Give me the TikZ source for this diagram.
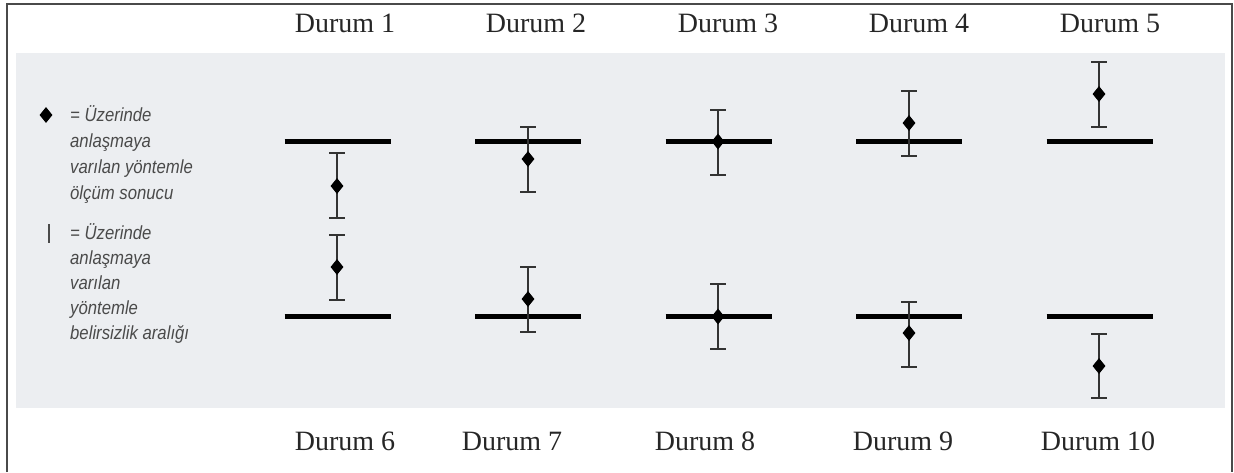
\documentclass[tikz,border=0pt]{standalone}
\usepackage{fontspec}
\setmainfont{Liberation Serif}
\newfontfamily\legfont{Liberation Sans}
\usetikzlibrary{shapes.geometric}
\definecolor{panelgray}{HTML}{ECEEF1}
\definecolor{framegray}{HTML}{4A4A4A}
\definecolor{errgray}{HTML}{333333}
\definecolor{leggray}{HTML}{4A4A4A}
\newcommand{\narrowtxt}[1]{\scalebox{0.88}[1]{#1}}
\tikzset{
  refbar/.style={line width=5pt, black},
  errline/.style={line width=1.3pt, errgray},
  meas/.style={shape=diamond, fill=black, draw=none, inner sep=0pt, minimum width=13pt, minimum height=16pt},
  durum/.style={font=\fontsize{28}{30}\selectfont, anchor=base, inner sep=0pt, text=black!85},
  legtext/.style={font=\legfont\itshape\fontsize{19}{22}\selectfont, anchor=base west, inner sep=0pt, text=leggray},
}
\begin{document}
\begin{tikzpicture}[x=1pt,y=-1pt]
\useasboundingbox (0,0) rectangle (1234,472);
% frame
\draw[framegray, line width=2pt] (7,472) -- (7,3.5) -- (1232,3.5) -- (1232,472);
% panel
\fill[panelgray] (16,52.5) rectangle (1225,408);
% titles
\node[durum] (t1) at (345,32) {Durum 1};
\node[durum] (t2) at (536,32) {Durum 2};
\node[durum] (t3) at (728,32) {Durum 3};
\node[durum] (t4) at (919,32) {Durum 4};
\node[durum] (t5) at (1110,32) {Durum 5};
\node[durum] (t6) at (345,450) {Durum 6};
\node[durum] (t7) at (512,450) {Durum 7};
\node[durum] (t8) at (705,450) {Durum 8};
\node[durum] (t9) at (903,450) {Durum 9};
\node[durum] (t10) at (1098,450) {Durum 10};
% reference bars
\foreach \cx/\n in {337.5/1, 528/2, 718.5/3, 909/4, 1099.5/5}{
  \coordinate (ua\n) at (\cx-53,141.5);
  \coordinate (ub\n) at (\cx+53,141.5);
  \draw[refbar] (ua\n) -- (ub\n);
  \coordinate (la\n) at (\cx-53,316.5);
  \coordinate (lb\n) at (\cx+53,316.5);
  \draw[refbar] (la\n) -- (lb\n);
}
% error bars with measurement diamonds
\foreach \x/\top/\mid/\bot/\n in {
  337/153/186/218/1, 528/127/159/192/2, 718/110/141.5/175/3, 909/91/123/156/4, 1099/62/94/127/5,
  337/235/267/300/6, 528/267/299/332/7, 718/284/316.5/349/8, 909/302/333/367/9, 1099/334/366/398/10}{
  \coordinate (et\n) at (\x,\top);
  \coordinate (eb\n) at (\x,\bot);
  \draw[errline] (et\n) -- (eb\n);
  \draw[errline] ([xshift=-8pt]et\n) -- ([xshift=8pt]et\n);
  \draw[errline] ([xshift=-8pt]eb\n) -- ([xshift=8pt]eb\n);
  \node[meas] (m\n) at (\x,\mid) {};
}
% legend
\node[meas] (legd) at (46,115) {};
\node[legtext] (l1a) at (70,121) {\narrowtxt{= Üzerinde}};
\node[legtext] (l1b) at (70,147) {\narrowtxt{anlaşmaya}};
\node[legtext] (l1c) at (70,173) {\narrowtxt{varılan yöntemle}};
\node[legtext] (l1d) at (70,199) {\narrowtxt{ölçüm sonucu}};
\coordinate (lbt) at (49,224);
\coordinate (lbb) at (49,243);
\draw[leggray, line width=1.5pt] (lbt) -- (lbb);
\node[legtext] (l2a) at (70,239) {\narrowtxt{= Üzerinde}};
\node[legtext] (l2b) at (70,264) {\narrowtxt{anlaşmaya}};
\node[legtext] (l2c) at (70,289) {\narrowtxt{varılan}};
\node[legtext] (l2d) at (70,314) {\narrowtxt{yöntemle}};
\node[legtext] (l2e) at (70,339) {\narrowtxt{belirsizlik aralığı}};
\end{tikzpicture}
\end{document}
